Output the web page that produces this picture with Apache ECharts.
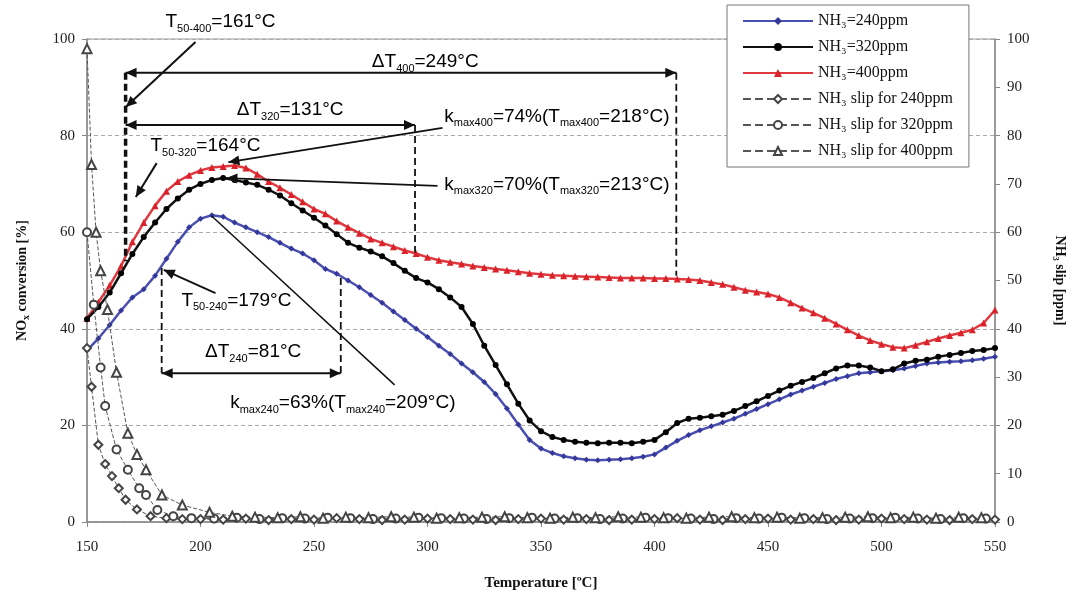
<!DOCTYPE html>
<html>
<head>
<meta charset="utf-8">
<script src="https://cdn.jsdelivr.net/npm/echarts@6/dist/echarts.min.js"></script>
<style>
  html, body { margin: 0; padding: 0; background: #fff; }
  #chart { width: 1075px; height: 599px; }
</style>
</head>
<body>
<div id="chart"></div>
<script>
// temperature grid for the NOx conversion curves [°C]
const temps = [
  150,155,160,165,170,175,180,185,190,195,
  200,205,210,215,220,225,230,235,240,245,
  250,255,260,265,270,275,280,285,290,295,
  300,305,310,315,320,325,330,335,340,345,
  350,355,360,365,370,375,380,385,390,395,
  400,405,410,415,420,425,430,435,440,445,
  450,455,460,465,470,475,480,485,490,495,
  500,505,510,515,520,525,530,535,540,545,
  550
];

// NOx conversion [%]
const nox240 = [
  35.5,38,40.8,43.8,46.5,48.2,51,54.5,58,61,
  62.8,63.5,63.2,62,61,60,59,57.8,56.6,55.6,
  54.2,52.4,51.4,50,48.6,47,45.4,43.6,41.8,40,
  38.3,36.5,34.8,32.8,31,29,26.5,23.5,20.2,17,
  15.2,14.3,13.6,13.2,12.9,12.8,12.9,13,13.2,13.5,
  14,15.4,16.8,18,19,19.8,20.6,21.4,22.4,23.4,
  24.4,25.4,26.4,27.2,28,28.8,29.6,30.2,30.8,31,
  31.2,31.4,31.8,32.3,32.8,33,33.2,33.3,33.5,33.8,
  34.2
];
const nox320 = [
  42,44.5,47.5,51.5,55.5,59,62,64.8,67,68.8,
  70,70.8,71.2,70.8,70.3,69.8,68.8,67.6,66,64.5,
  63,61.4,59.6,57.8,56.8,56,55,53.6,52,50.5,
  49.6,48.2,46.5,44.5,41,36.5,32.5,28.5,24.5,21,
  18.8,17.6,17,16.6,16.4,16.3,16.4,16.4,16.3,16.6,
  17,18.6,20.5,21.4,21.6,21.9,22.2,23,24,25,
  26.1,27.2,28.2,29,29.8,30.8,31.8,32.4,32.4,32,
  31.2,31.6,32.8,33.4,33.6,34.2,34.6,35,35.4,35.6,
  36
];
const nox400 = [
  42.2,45.5,49,53,58,62,65.5,68.5,70.5,71.8,
  72.8,73.4,73.6,73.8,73.3,72,70.5,69.2,67.8,66.3,
  64.8,63.8,62.3,61,59.8,58.6,57.8,57,56.2,55.6,
  54.8,54.2,53.8,53.4,53,52.7,52.4,52.1,51.8,51.5,
  51.3,51.1,51,50.9,50.8,50.7,50.6,50.5,50.5,50.5,
  50.4,50.4,50.3,50.2,50,49.6,49.2,48.6,48,47.6,
  47.2,46.5,45.4,44.3,43.3,42.2,41,39.8,38.6,37.6,
  36.8,36.2,36,36.6,37.3,38,38.6,39.2,39.8,41.2,
  43.9
];

// NH3 slip [ppm]
const slip240T = [
  150,152,155,158,161,164,167,172,178,185,192,
  200,210,220,230,240,250,260,270,280,290,300,310,320,330,340,350,
  360,370,380,390,400,410,420,430,440,450,460,470,480,490,500,510,
  520,530,540,550
];
const slip240 = [
  36,28,16,12,9.5,7,4.6,2.6,1.2,0.8,0.6,
  0.6,0.5,0.7,0.4,0.6,0.5,0.8,0.6,0.4,0.5,0.7,0.6,0.5,0.4,0.6,0.7,
  0.5,0.6,0.4,0.5,0.6,0.8,0.5,0.4,0.6,0.7,0.5,0.6,0.4,0.5,0.7,0.6,
  0.5,0.4,0.6,0.5
];
const slip320T = [
  150,153,156,158,163,168,173,176,181,188,
  196,206,216,226,236,246,256,266,276,286,296,306,316,326,336,346,
  356,366,376,386,396,406,416,426,436,446,456,466,476,486,496,506,
  516,526,536,546
];
const slip320 = [
  60,45,32,24,15,10.8,7,5.6,2.5,1.2,
  0.8,0.7,0.9,0.6,0.8,0.7,0.9,0.8,0.6,0.7,0.9,0.8,0.7,0.6,0.8,0.9,
  0.7,0.8,0.6,0.7,0.9,0.8,0.7,0.6,0.8,0.7,0.9,0.8,0.6,0.7,0.8,0.9,
  0.7,0.6,0.8,0.7
];
const slip400T = [
  150,152,154,156,159,163,168,172,176,183,192,
  204,214,224,234,244,254,264,274,284,294,304,314,324,334,344,
  354,364,374,384,394,404,414,424,434,444,454,464,474,484,494,
  504,514,524,534,544
];
const slip400 = [
  98,74,60,52,44,31,18.4,14,10.8,5.6,3.5,
  2,1.2,1,0.9,1.1,0.8,1,0.9,1.1,1,0.8,0.9,1,1.1,0.9,
  0.8,1,0.9,1.1,1,0.9,0.8,1,1.1,0.9,1,0.8,0.9,1,1.1,
  0.9,1,0.8,1,0.9
];

const serif = '"Liberation Serif", "Times New Roman", serif';
const sans = '"Liberation Sans", Arial, sans-serif';

function pairs(xs, ys) {
  return xs.map((x, i) => [x, ys[i]]);
}

const chart = echarts.init(document.getElementById('chart'));

const slipLine = { type: 'dashed', width: 1, color: '#555' };

const option = {
  animation: false,
  backgroundColor: '#fff',
  grid: {
    left: 87, right: 70, top: 39, bottom: 77,
    show: true, borderColor: '#999', borderWidth: 1
  },
  legend: {
    orient: 'vertical',
    left: 727, top: 5,
    itemWidth: 70, itemHeight: 10, itemGap: 10,
    padding: [8, 16, 8, 15],
    borderColor: '#777', borderWidth: 1,
    backgroundColor: '#fff',
    textStyle: { fontFamily: serif, fontSize: 16, color: '#111' },
    z: 20,
    data: ['NH₃=240ppm', 'NH₃=320ppm', 'NH₃=400ppm',
      'NH₃ slip for 240ppm', 'NH₃ slip for 320ppm', 'NH₃ slip for 400ppm']
  },
  xAxis: {
    type: 'value', min: 150, max: 550, interval: 50,
    name: 'Temperature [ºC]', nameLocation: 'middle', nameGap: 54,
    nameTextStyle: { fontFamily: serif, fontWeight: 'bold', fontSize: 15, color: '#111' },
    axisLine: { lineStyle: { color: '#888', width: 1.5 } },
    axisTick: { length: 5, lineStyle: { color: '#888' } },
    axisLabel: { fontFamily: serif, fontSize: 15, color: '#222', margin: 18 },
    splitLine: { show: false }
  },
  yAxis: [
    {
      type: 'value', min: 0, max: 100, interval: 20,
      name: '{a|NO}{b|x}{a| conversion [%]}', nameLocation: 'middle', nameGap: 56,
      nameTextStyle: {
        rich: {
          a: { fontFamily: serif, fontWeight: 'bold', fontSize: 14, color: '#111', lineHeight: 18 },
          b: { fontFamily: serif, fontWeight: 'bold', fontSize: 10, color: '#111', lineHeight: 18, verticalAlign: 'bottom' }
        }
      },
      axisLine: { show: true, lineStyle: { color: '#888', width: 1.5 } },
      axisTick: { show: true, length: 5, lineStyle: { color: '#888' } },
      axisLabel: { fontFamily: serif, fontSize: 15, color: '#222', margin: 12 },
      splitLine: { show: true, lineStyle: { color: '#aaa', type: [4, 3] } }
    },
    {
      type: 'value', min: 0, max: 100, interval: 10, position: 'right',
      name: 'NH₃ slip [ppm]', nameLocation: 'middle', nameGap: 58, nameRotate: -90,
      nameTextStyle: { fontFamily: serif, fontWeight: 'bold', fontSize: 14, color: '#111' },
      axisLine: { show: true, lineStyle: { color: '#888', width: 1.5 } },
      axisTick: { show: true, length: 5, lineStyle: { color: '#888' } },
      axisLabel: { fontFamily: serif, fontSize: 15, color: '#222', margin: 12 },
      splitLine: { show: false }
    }
  ],
  series: [
    {
      name: 'NH₃=240ppm', type: 'line', data: pairs(temps, nox240),
      symbol: 'diamond', symbolSize: 6, z: 3,
      itemStyle: { color: '#34389a' },
      lineStyle: { width: 2.5, color: '#4a4fb0' }
    },
    {
      name: 'NH₃=320ppm', type: 'line', data: pairs(temps, nox320),
      symbol: 'circle', symbolSize: 6, z: 4,
      itemStyle: { color: '#000' },
      lineStyle: { width: 2.5, color: '#111' }
    },
    {
      name: 'NH₃=400ppm', type: 'line', data: pairs(temps, nox400),
      symbol: 'triangle', symbolSize: 7, z: 2,
      itemStyle: { color: '#d9222a' },
      lineStyle: { width: 2.5, color: '#e0383f' }
    },
    {
      name: 'NH₃ slip for 240ppm', type: 'line', yAxisIndex: 1,
      data: pairs(slip240T, slip240),
      symbol: 'emptyDiamond', symbolSize: 8, z: 5,
      itemStyle: { color: '#444' }, lineStyle: slipLine
    },
    {
      name: 'NH₃ slip for 320ppm', type: 'line', yAxisIndex: 1,
      data: pairs(slip320T, slip320),
      symbol: 'emptyCircle', symbolSize: 8, z: 5,
      itemStyle: { color: '#444' }, lineStyle: slipLine
    },
    {
      name: 'NH₃ slip for 400ppm', type: 'line', yAxisIndex: 1,
      data: pairs(slip400T, slip400),
      symbol: 'emptyTriangle', symbolSize: 9, z: 5,
      itemStyle: { color: '#444' }, lineStyle: slipLine
    }
  ]
};

chart.setOption(option);

// annotations, placed in data coordinates
const P = (t, v) => chart.convertToPixel({ xAxisIndex: 0, yAxisIndex: 0 }, [t, v]);

const rich = {
  n: { fontFamily: sans, fontSize: 19, lineHeight: 24, color: '#111', verticalAlign: 'middle' },
  s: { fontFamily: sans, fontSize: 11, lineHeight: 13, color: '#111', verticalAlign: 'bottom' }
};

const labels = [
  { at: [208.8, 103.5], text: '{n|T}{s|50-400}{n|=161°C}' },
  { at: [299, 95.2], text: '{n|ΔT}{s|400}{n|=249°C}' },
  { at: [239.5, 85.3], text: '{n|ΔT}{s|320}{n|=131°C}' },
  { at: [202.2, 77.8], text: '{n|T}{s|50-320}{n|=164°C}' },
  { at: [357, 83.9], text: '{n|k}{s|max400}{n|=74%(T}{s|max400}{n|=218°C)}' },
  { at: [357, 69.8], text: '{n|k}{s|max320}{n|=70%(T}{s|max320}{n|=213°C)}' },
  { at: [215.8, 45.8], text: '{n|T}{s|50-240}{n|=179°C}' },
  { at: [223.2, 35.2], text: '{n|ΔT}{s|240}{n|=81°C}' },
  { at: [262.7, 24.6], text: '{n|k}{s|max240}{n|=63%(T}{s|max240}{n|=209°C)}' }
];

// [from, to, head at end, head at start, dashed, width]
const strokes = [
  [[197.8, 99.4], [167.1, 85.9], true, false, false, 2],
  [[167, 93], [409.6, 93], true, true, false, 2],
  [[167, 82.2], [294.5, 82.2], true, true, false, 2],
  [[167, 93], [167, 54], false, false, true, 3.5],
  [[409.6, 93], [409.6, 51], false, false, true, 1.8],
  [[294.5, 82.2], [294.5, 55.8], false, false, true, 1.8],
  [[180.7, 74.3], [171.5, 67.3], true, false, false, 2],
  [[306.6, 81.6], [212.3, 74.5], true, false, false, 1.8],
  [[304.4, 69.6], [211.4, 71.2], true, false, false, 1.8],
  [[206.6, 47.4], [183.8, 52.2], true, false, false, 1.8],
  [[182.9, 30.8], [261.8, 30.8], true, true, false, 2],
  [[182.9, 52.6], [182.9, 30.8], false, false, true, 1.8],
  [[261.8, 50.5], [261.8, 30.8], false, false, true, 1.8],
  [[285.5, 28.4], [204.8, 63.4], false, false, false, 1.5]
];

function head(a, b, size) {
  const dx = b[0] - a[0], dy = b[1] - a[1];
  const len = Math.hypot(dx, dy);
  const ux = dx / len, uy = dy / len;
  const bx = b[0] - ux * size, by = b[1] - uy * size;
  const w = size * 0.45;
  return {
    type: 'polygon', z: 100, silent: true,
    shape: { points: [[b[0], b[1]], [bx - uy * w, by + ux * w], [bx + uy * w, by - ux * w]] },
    style: { fill: '#111' }
  };
}

const elements = [];
strokes.forEach(([f, t, endHead, startHead, dashed, width]) => {
  const a = P(f[0], f[1]);
  const b = P(t[0], t[1]);
  elements.push({
    type: 'line', z: 100, silent: true,
    shape: { x1: a[0], y1: a[1], x2: b[0], y2: b[1] },
    style: { stroke: '#111', lineWidth: width, lineDash: dashed ? [7, 4] : null }
  });
  if (endHead) elements.push(head(a, b, 11));
  if (startHead) elements.push(head(b, a, 11));
});
labels.forEach(l => {
  const p = P(l.at[0], l.at[1]);
  elements.push({
    type: 'text', z: 101, silent: true, x: p[0], y: p[1],
    style: { text: l.text, rich: rich, align: 'center', verticalAlign: 'middle' }
  });
});

chart.setOption({ graphic: elements });
</script>
</body>
</html>
